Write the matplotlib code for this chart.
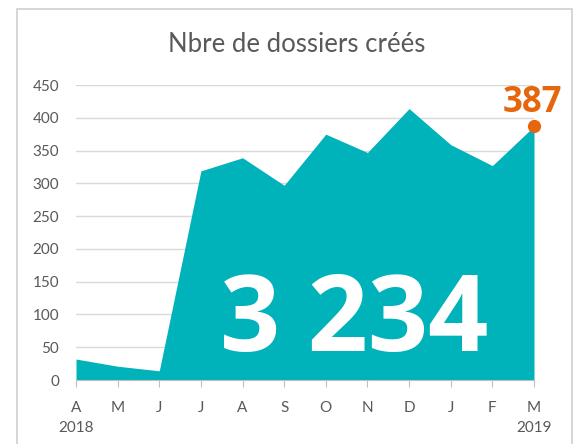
import matplotlib.pyplot as plt
from matplotlib.patches import Rectangle

plt.rcParams['font.family'] = ['Lato', 'DejaVu Sans']

months = ['A', 'M', 'J', 'J', 'A', 'S', 'O', 'N', 'D', 'J', 'F', 'M']
years = {0: '2018', 11: '2019'}
dossiers = [32, 21, 14, 319, 339, 297, 375, 347, 414, 359, 327, 387]
total = '3 234'

teal = '#00B2BA'
orange = '#E5660C'
grey = '#595959'

fig = plt.figure(figsize=(5.74, 4.44), dpi=100)
fig.patches.append(Rectangle((17 / 574, -0.1), 555 / 574, 1.1 - 9 / 444,
                             transform=fig.transFigure, fill=False,
                             edgecolor='#D0D0D0', linewidth=1.2))
ax = fig.add_axes([76 / 574, 1 - 380 / 444, 458 / 574, 295 / 444])

x = list(range(len(dossiers)))
ax.fill_between(x, dossiers, 0, color=teal, linewidth=0, zorder=2)

ax.set_xlim(0, 11)
ax.set_ylim(0, 450)
ax.set_yticks(range(0, 451, 50))
ax.tick_params(axis='y', length=0, labelsize=11, labelcolor=grey, pad=12)
ax.set_xticks(x)
labels = [m + ('\n' + years[i] if i in years else '') for i, m in enumerate(months)]
ax.set_xticklabels(labels, fontsize=11, color=grey, linespacing=1.6)
ax.tick_params(axis='x', length=5, color='#BFBFBF', pad=10)
for t in ax.get_xticklabels():
    t.set_verticalalignment('top')

ax.grid(axis='y', color='#D9D9D9', linewidth=1, zorder=0)
ax.set_axisbelow(True)
for s in ['top', 'right', 'left']:
    ax.spines[s].set_visible(False)
ax.spines['bottom'].set_color('#BFBFBF')
ax.spines['bottom'].set_zorder(3)

ax.plot(11, dossiers[-1], 'o', color=orange, markersize=8.5, clip_on=False, zorder=4)
ax.annotate(str(dossiers[-1]), (11, dossiers[-1]), xytext=(-1, 10), textcoords='offset points',
            ha='center', va='baseline', fontsize=25, fontweight='bold', color=orange,
            family=['Open Sans', 'DejaVu Sans'], annotation_clip=False)

ax.text(6.68, 45, total, ha='center', va='baseline', fontsize=76, fontweight='bold',
        color='white', zorder=5, family=['Open Sans', 'DejaVu Sans'])

fig.text(297 / 574, 1 - 44 / 444, 'Nbre de dossiers créés', ha='center', va='center',
         fontsize=18.5, color=grey)

fig.savefig('out.png', dpi=100)
